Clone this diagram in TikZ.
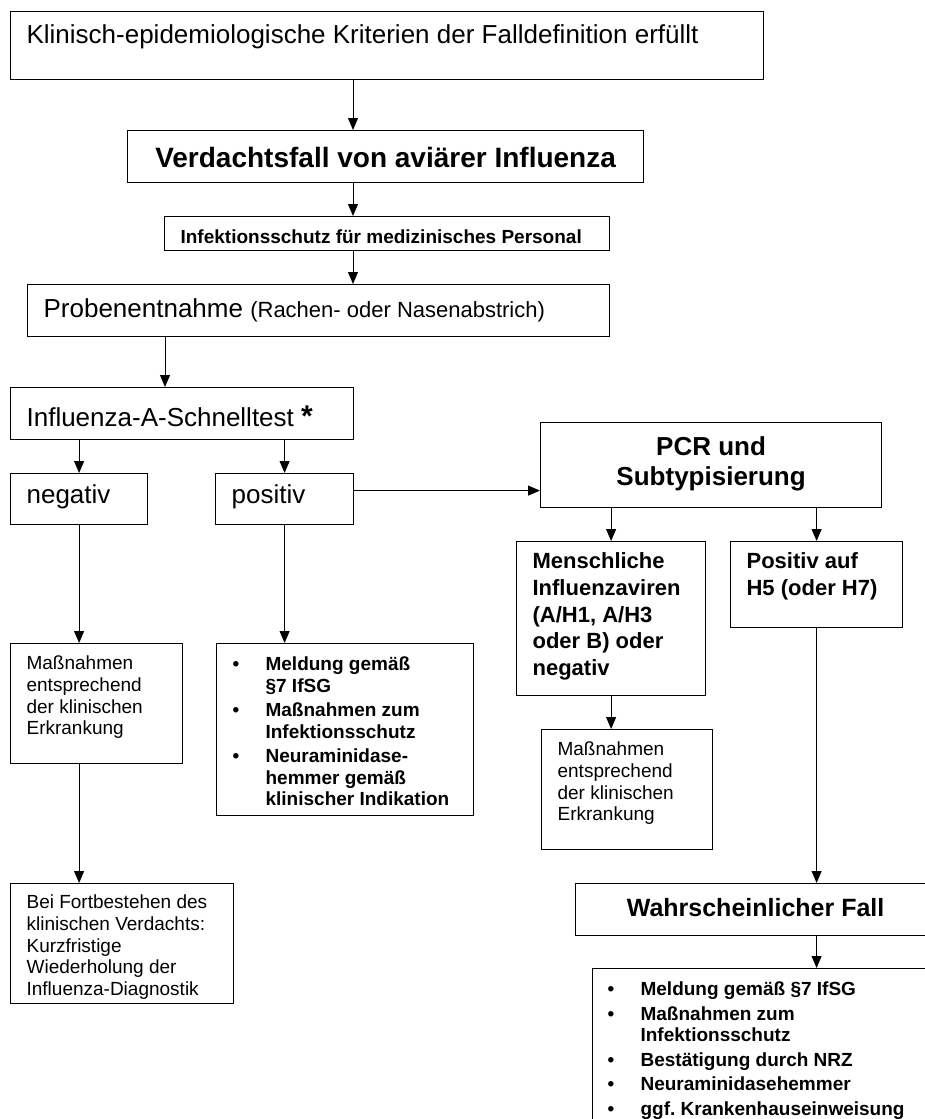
\documentclass[tikz,border=0pt]{standalone}
\usepackage{fontspec}
\setmainfont{Liberation Sans}
\usepackage{tikz}
\usetikzlibrary{arrows.meta}
\NewDocumentCommand{\bulletitem}{m}{%
\hangindent=33pt\hangafter=1\noindent\makebox[33pt][l]{\textbullet}#1\par\vspace{3pt}%
}

\begin{document}
\begin{tikzpicture}[x=1pt, y=-1pt,
box/.style={draw, line width=1.2pt, anchor=north west, inner xsep=16pt, inner ysep=0pt, align=flush left},
plainbox/.style={box, font=\fontsize{26}{30}\selectfont},
titlebox/.style={box, align=flush center, font=\fontsize{26}{30}\selectfont\bfseries},
boldbox/.style={box, font=\fontsize{22}{26.75}\selectfont\bfseries},
notebox/.style={box, font=\fontsize{19}{21.75}\selectfont},
listbox/.style={box, font=\fontsize{19}{21.5}\selectfont\bfseries\frenchspacing},
arrow/.style={-{Triangle[length=12pt,width=10pt]}, line width=1pt},
]
\useasboundingbox (0,0) rectangle (925,1119);
\clip (0,0) rectangle (925,1119);

%Nodes
\coordinate (trunk) at (353,0);
\coordinate (branch) at (165,0);
\node[plainbox, text width=721pt, text height=32pt, text depth=36pt]	(crit)		at (10,11)	{Klinisch-epidemiologische Kriterien der Falldefinition erfüllt};
\node[titlebox, text width=484pt, text height=37pt, text depth=15pt, font=\fontsize{28}{32}\selectfont\bfseries]	(susp)	at (127,130)	{Verdachtsfall von aviärer Influenza};
\node[listbox, text width=413pt, text height=27pt, text depth=7pt]	(protect)	at (164,216)	{Infektionsschutz für medizinisches Personal};
\node[plainbox, text width=550pt, text height=33pt, text depth=19pt]	(sample)	at (27,284)	{Probenentnahme {\fontsize{22}{26}\selectfont (Rachen- oder Nasenabstrich)}};
\node[plainbox, text width=311pt, text height=39pt, text depth=13pt]	(rapid)		at (10,387)	{Influenza-A-Schnelltest {\fontsize{30}{30}\selectfont\bfseries *}};
\node[plainbox, text width=105pt, text height=30pt, text depth=21pt]	(neg)		at (10,473)	{negativ};
\node[plainbox, text width=106pt, text height=30pt, text depth=21pt]	(pos)		at (215,473)	{positiv};
\node[titlebox, text width=309pt, text height=33pt, text depth=52pt]	(pcr)		at (540,422)	{PCR und\\Subtypisierung};
\node[boldbox, text width=157pt, text height=27pt, text depth=127pt]	(human)		at (516,541)	{Menschliche\\Influenzaviren\\(A/H1, A/H3\\oder B) oder\\negativ};
\node[boldbox, text width=140pt, text height=27pt, text depth=59pt]	(h5)		at (730,541)	{Positiv auf\\H5 (oder H7)};
\node[notebox, text width=140pt, text height=26pt, text depth=94pt]	(care1)		at (10,643)	{Maßnahmen\\entsprechend\\der klinischen\\Erkrankung};
\node[listbox, text width=225pt, text height=27pt, text depth=145pt]	(report)	at (216,643)	{\bulletitem{Meldung gemäß\newline §7 IfSG}\bulletitem{Maßnahmen zum\newline Infektionsschutz}\bulletitem{Neuraminidase-\newline hemmer gemäß\newline klinischer Indikation}};
\node[notebox, text width=139pt, text height=26pt, text depth=94pt]	(care2)		at (541,729)	{Maßnahmen\\entsprechend\\der klinischen\\Erkrankung};
\node[notebox, text width=191pt, text height=25pt, text depth=95pt]	(persist)	at (10,883)	{Bei Fortbestehen des\\klinischen Verdachts:\\Kurzfristige\\Wiederholung der\\Influenza-Diagnostik};
\node[titlebox, text width=328pt, text height=33pt, text depth=19pt, font=\fontsize{25}{29}\selectfont\bfseries]	(likely)	at (575,883)	{Wahrscheinlicher Fall};
\node[listbox, inner xsep=15pt, text width=331pt, text height=27pt, text depth=170pt]	(actions)	at (592,968)	{\bulletitem{Meldung gemäß §7 IfSG}\bulletitem{Maßnahmen zum\newline Infektionsschutz}\bulletitem{Bestätigung durch NRZ}\bulletitem{Neuraminidasehemmer}\bulletitem{ggf. Krankenhauseinweisung}};

%Lines
\draw[arrow] (crit.south -| trunk) -- (susp.north -| trunk);
\draw[arrow] (susp.south -| trunk) -- (protect.north -| trunk);
\draw[arrow] (protect.south -| trunk) -- (sample.north -| trunk);
\draw[arrow] (sample.south -| branch) -- (rapid.north -| branch);
\draw[arrow] (rapid.south -| neg.north) -- (neg.north);
\draw[arrow] (rapid.south -| pos.north) -- (pos.north);
\draw[arrow] ([yshift=8.5pt]pos.east) -- ([yshift=8.5pt]pos.east -| pcr.west);
\draw[arrow] (pcr.south -| human.north) -- (human.north);
\draw[arrow] (pcr.south -| h5.north) -- (h5.north);
\draw[arrow] (neg.south) -- (neg.south |- care1.north);
\draw[arrow] (pos.south) -- (pos.south |- report.north);
\draw[arrow] (human.south) -- (human.south |- care2.north);
\draw[arrow] (care1.south -| neg.south) -- (persist.north -| neg.south);
\draw[arrow] (h5.south) -- (h5.south |- likely.north);
\draw[arrow] (likely.south -| h5.south) -- (actions.north -| h5.south);
\end{tikzpicture}
\end{document}
